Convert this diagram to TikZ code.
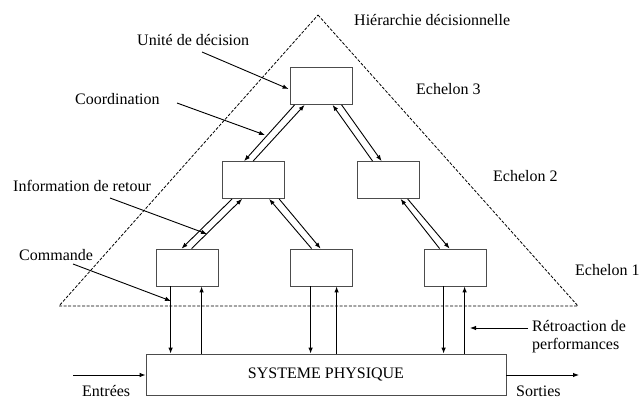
\documentclass[tikz,border=0pt]{standalone}
\usepackage{fontspec}
\setmainfont{Liberation Serif}
\usetikzlibrary{arrows.meta,calc}
\begin{document}
\begin{tikzpicture}[x=1pt,y=-1pt,
  font=\fontsize{16}{18}\selectfont,
  unit/.style={draw=black!70,line width=0.8pt,fill=white,minimum width=62pt,minimum height=37pt,inner sep=0pt},
  arr/.style={line width=0.9pt,-{Latex[length=6pt,width=4.5pt]}},
  lbl/.style={anchor=base west,inner sep=0pt},
  zone/.style={line width=0.8pt,dash pattern=on 3pt off 1.6pt}]
\useasboundingbox (0,0) rectangle (640,399);

% decision hierarchy outline
\draw[zone] (318,15) -- (578,306) -- (59,306) -- cycle;

% decision units
\node[unit] (top) at (321,86) {};
\node[unit] (La) at (253.5,180) {};
\node[unit] (Lb) at (388,180) {};
\node[unit] (Ba) at (187,267.5) {};
\node[unit] (Bb) at (321,267.5) {};
\node[unit] (Bc) at (455,267.5) {};
\node[draw=black!70,line width=0.8pt,minimum width=360pt,minimum height=41pt,inner sep=0pt] (sys) at (326,374.5) {SYSTEME PHYSIQUE};

% coordination / feedback pairs between levels
\draw[arr] ($(top.south west)+(5,0)$) -- ($(La.north west)+(22,0)$);
\draw[arr] ($(La.north west)+(31,0)$) -- ($(top.south west)+(15,0)$);
\draw[arr] ($(Lb.north west)+(16,0)$) -- ($(top.south west)+(43,0)$);
\draw[arr] ($(top.south west)+(52,0)$) -- ($(Lb.north west)+(25,0)$);

\draw[arr] ($(La.south west)+(10,0)$) -- ($(Ba.north west)+(26,0)$);
\draw[arr] ($(Ba.north west)+(36,0)$) -- ($(La.south west)+(20,0)$);
\draw[arr] ($(Bb.north west)+(22,0)$) -- ($(La.south west)+(47,0)$);
\draw[arr] ($(La.south west)+(57,0)$) -- ($(Bb.north west)+(31,0)$);

\draw[arr] ($(Bc.north west)+(16,0)$) -- ($(Lb.south west)+(44,0)$);
\draw[arr] ($(Lb.south west)+(51,0)$) -- ($(Bc.north west)+(26,0)$);

% commands down, performance feedback up
\coordinate (da) at ([xshift=15]Ba.south west);
\coordinate (ua) at ([xshift=46]Ba.south west);
\coordinate (db) at ([xshift=21]Bb.south west);
\coordinate (ub) at ([xshift=47]Bb.south west);
\coordinate (dc) at ([xshift=20]Bc.south west);
\coordinate (uc) at ([xshift=41]Bc.south west);
\draw[arr] (da) -- (da |- sys.north);
\draw[arr] (ua |- sys.north) -- (ua);
\draw[arr] (db) -- (db |- sys.north);
\draw[arr] (ub |- sys.north) -- (ub);
\draw[arr] (dc) -- (dc |- sys.north);
\draw[arr] (uc |- sys.north) -- (uc);

% inputs and outputs
\coordinate (inp) at (73,375);
\coordinate (outp) at (579,375);
\draw[arr] (inp) -- (inp -| sys.west);
\draw[arr] (outp -| sys.east) -- (outp);

% labels
\node[lbl] (tHier) at (354,25) {Hiérarchie décisionnelle};
\node[lbl] (tUnit) at (137,45) {Unité de décision};
\node[lbl] (tCoord) at (75,104) {Coordination};
\node[lbl] (tInfo) at (13,191) {Information de retour};
\node[lbl] (tCmd) at (19,260) {Commande};
\node[lbl] (tE3) at (416,94) {Echelon 3};
\node[lbl] (tE2) at (493,181) {Echelon 2};
\node[lbl] (tE1) at (575,275) {Echelon 1};
\node[lbl] (tRetro) at (532,331) {Rétroaction de};
\node[lbl] (tPerf) at (532,349) {performances};
\node[lbl] (tIn) at (82,396) {Entrées};
\node[lbl] (tOut) at (516,396) {Sorties};

% label pointers
\coordinate (pUnit) at (202,52);
\coordinate (pCoord) at (177,103);
\coordinate (pInfo) at (110,198);
\coordinate (pCmd) at (73,264);
\coordinate (pRetro) at (528,328);
\coordinate (hCoord) at (265,135);
\coordinate (hInfo) at (207,234);
\coordinate (hCmd) at (171,301);
\coordinate (hRetro) at (470,328);
\draw[arr] (pUnit) -- ([xshift=-1,yshift=-3]top.west);
\draw[arr] (pCoord) -- (hCoord);
\draw[arr] (pInfo) -- (hInfo);
\draw[arr] (pCmd) -- (hCmd);
\draw[arr] (pRetro) -- (hRetro);
\end{tikzpicture}
\end{document}
